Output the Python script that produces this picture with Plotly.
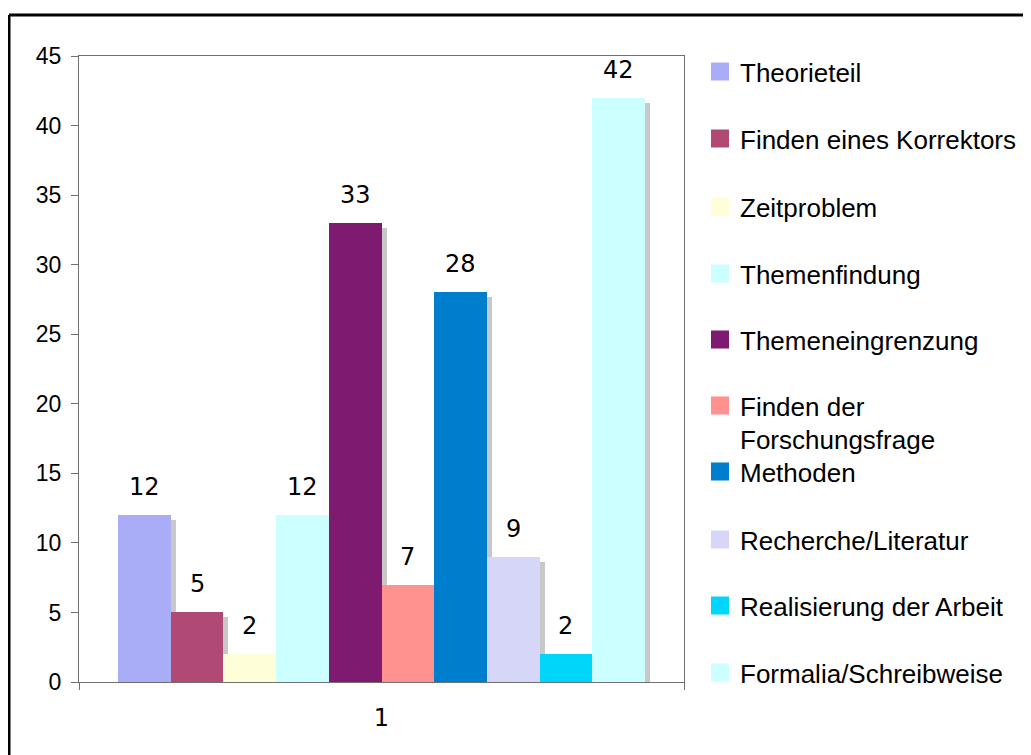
import plotly.graph_objects as go

# ---------------- data ----------------
categories = ["Theorieteil", "Finden eines Korrektors", "Zeitproblem", "Themenfindung",
              "Themeneingrenzung", "Finden der<br>Forschungsfrage", "Methoden",
              "Recherche/Literatur", "Realisierung der Arbeit", "Formalia/Schreibweise"]
values = [12, 5, 2, 12, 33, 7, 28, 9, 2, 42]
colors = ["#A9ACF7", "#B04A74", "#FEFED9", "#CCFFFF", "#7E1A70",
          "#FF928F", "#007ECE", "#D5D6F8", "#00D6F9", "#CCFFFF"]
x_tick_labels = ["1"]
y_tick_values = [0, 5, 10, 15, 20, 25, 30, 35, 40, 45]

# ---------------- layout constants ----------------
OFF = 8                      # page body margin
W, H = 1031 - OFF, 755 - OFF
ml, mr, mt, mb = 79 - OFF, 347, 56 - OFF, 73
pw = W - ml - mr
ph = H - mt - mb
ymax = 45
px_per_unit = ph / ymax
gap = 0.129
bw = (1 - gap) / len(values)
sx = 5 / pw
sy = 5 / px_per_unit
shadow_color = "#C8C8C8"

fig = go.Figure()

# shadows
for i, v in enumerate(values):
    off = -0.5 + gap / 2 + i * bw
    fig.add_trace(go.Bar(x=[0.5], y=[max(v - sy, 0)], width=[bw], offset=[off + sx],
                         marker=dict(color=shadow_color, line=dict(width=0)),
                         opacity=1, showlegend=False, hoverinfo="skip"))
# bars
for i, v in enumerate(values):
    off = -0.5 + gap / 2 + i * bw
    fig.add_trace(go.Bar(x=[0.5], y=[v], width=[bw], offset=[off],
                         marker=dict(color=colors[i], line=dict(width=0)),
                         opacity=1, name=categories[i], showlegend=False))
    fig.add_annotation(x=0.5 + off + bw / 2, y=v, text=str(v), showarrow=False,
                       yanchor="bottom", yshift=12,
                       font=dict(family="DejaVu Sans", size=24, color="black"))

# legend entries (one legend per entry for exact placement)
legend_centers = [73, 140, 208, 275, 341, 407, 473, 541, 607, 674]
for i, name in enumerate(categories):
    key = "legend" if i == 0 else f"legend{i + 1}"
    fig.add_trace(go.Scatter(x=[None], y=[None], mode="markers", name=name,
                             marker=dict(symbol="square", size=16, color=colors[i],
                                         line=dict(color=colors[i], width=2)),
                             legend=key, showlegend=True))
    fig.layout[key] = dict(x=(740 - OFF - 40) / W, xref="container", xanchor="left",
                           y=1 - (legend_centers[i] - OFF - 25) / H, yref="container",
                           yanchor="top", valign="top", itemwidth=30,
                           bgcolor="rgba(0,0,0,0)", borderwidth=0,
                           font=dict(family="Liberation Sans, Arial", size=26, color="black"))

# outer frame (top and left edges visible)
top_y = (H - mb - (15 - OFF)) / ph
left_x = ((9 - OFF) - ml) / pw
fig.add_shape(type="line", xref="paper", yref="paper", x0=left_x, x1=(W + 10 - ml) / pw,
              y0=top_y, y1=top_y, line=dict(color="black", width=3))
fig.add_shape(type="line", xref="paper", yref="paper", x0=left_x, x1=left_x,
              y0=top_y, y1=-(mb + 10) / ph, line=dict(color="black", width=3))

fig.update_layout(
    width=W, height=H, autosize=False,
    margin=dict(l=ml, r=mr, t=mt, b=mb, pad=0),
    paper_bgcolor="white", plot_bgcolor="white",
    barmode="overlay", bargap=0,
    showlegend=True,
    xaxis=dict(range=[0, 1], tickvals=[0.5], ticktext=x_tick_labels, ticks="",
               showline=True, linecolor="#707070", linewidth=1, mirror=True,
               showgrid=False, zeroline=False, fixedrange=True,
               tickfont=dict(family="DejaVu Sans", size=24, color="black"),
               ticklabelstandoff=14,
               minor=dict(tickvals=[0, 1], ticks="outside", ticklen=7,
                          tickcolor="#707070", showgrid=False)),
    yaxis=dict(range=[0, ymax], tickvals=y_tick_values, ticks="outside", ticklen=7,
               tickcolor="#707070", showline=True, linecolor="#707070", linewidth=1,
               mirror=True, showgrid=False, zeroline=False, fixedrange=True,
               ticklabelstandoff=5,
               tickfont=dict(family="Liberation Sans, Arial", size=23, color="black")),
)

fig.write_html("out.html")
